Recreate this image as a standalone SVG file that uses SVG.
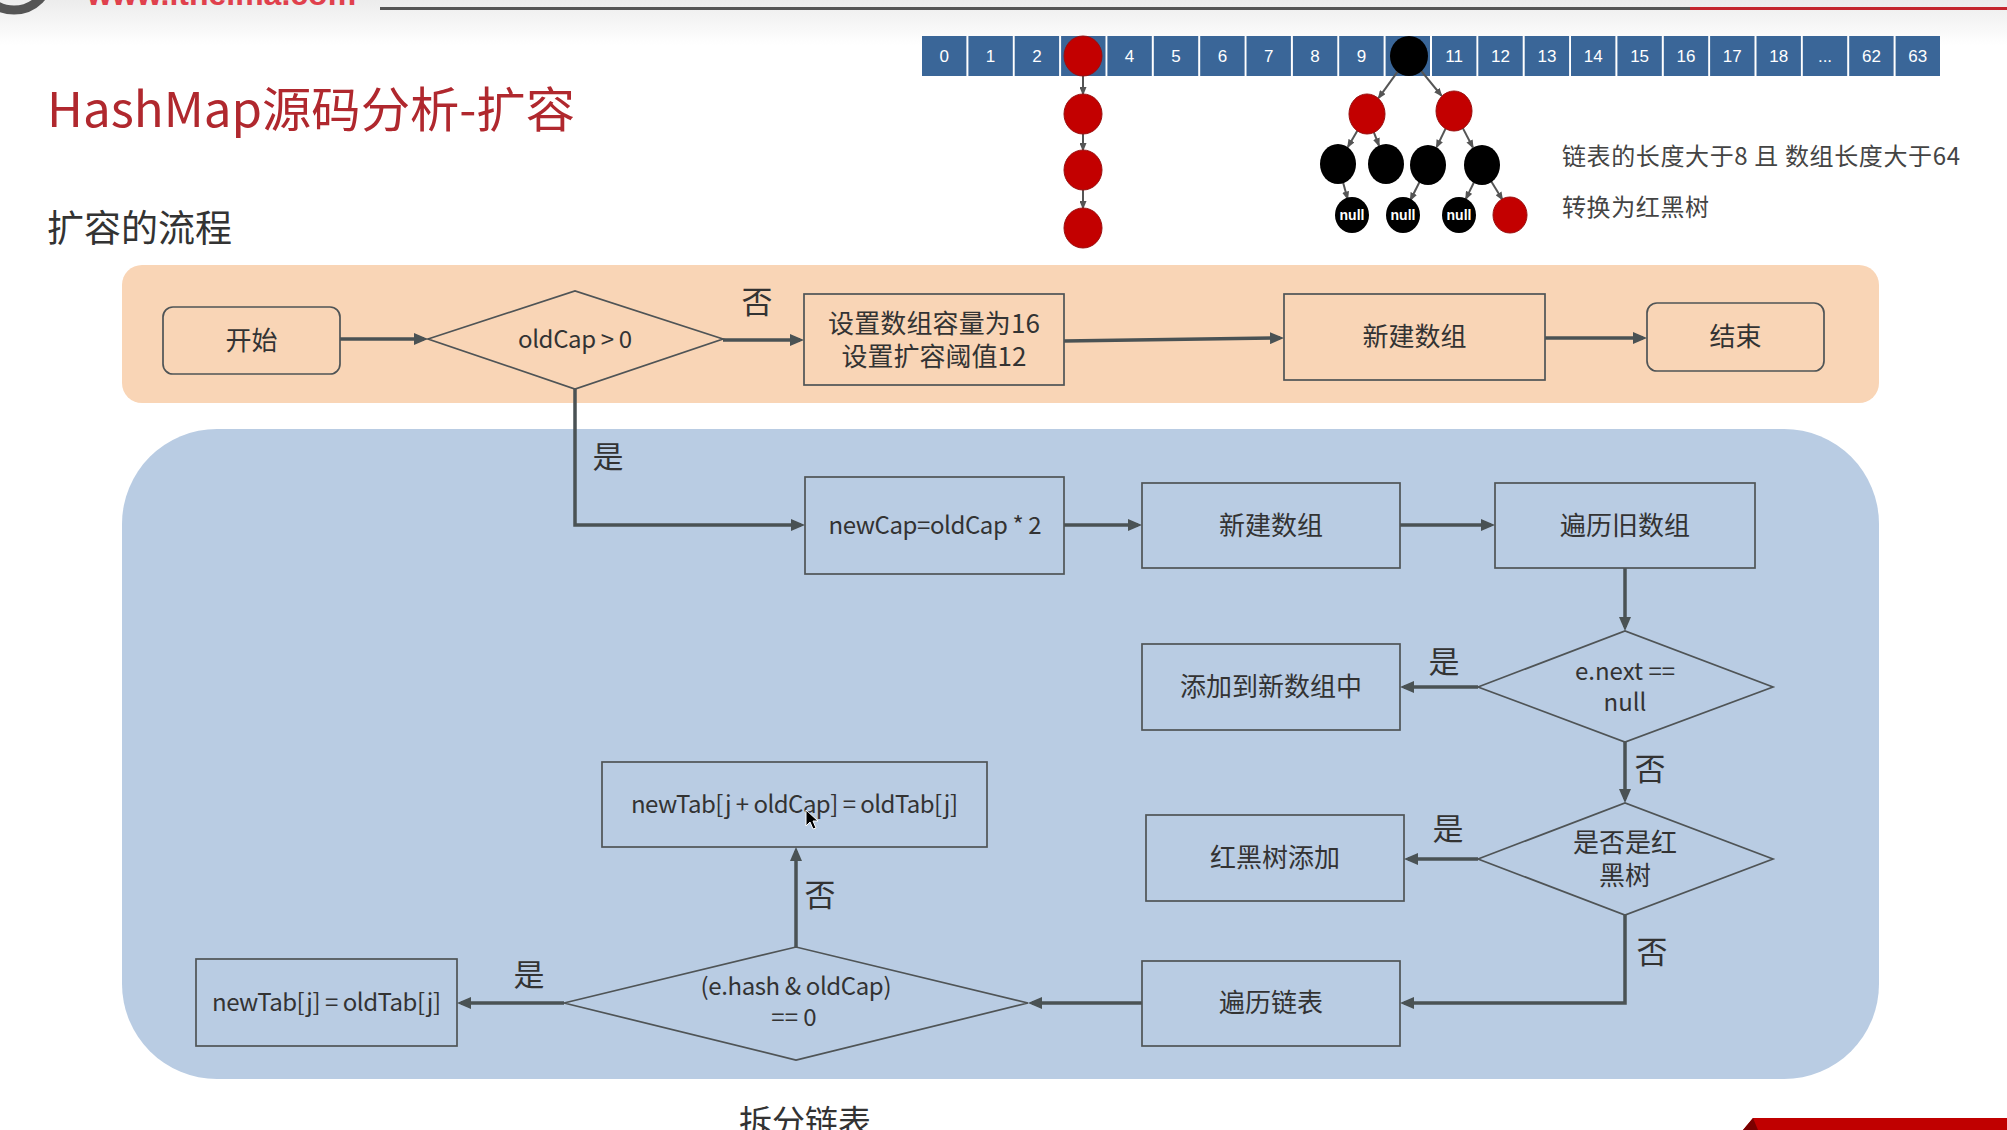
<svg xmlns="http://www.w3.org/2000/svg" width="2007" height="1130" viewBox="0 0 2007 1130">
<defs>
  <linearGradient id="topbg" x1="0" y1="0" x2="0" y2="1">
    <stop offset="0" stop-color="#ececec"/>
    <stop offset="1" stop-color="#ffffff"/>
  </linearGradient>
  <marker id="arr" viewBox="0 0 14 12" refX="10" refY="6" markerWidth="14" markerHeight="12" markerUnits="userSpaceOnUse" orient="auto">
    <path d="M0,0 L14,6 L0,12 Z" fill="#4a5254"/>
  </marker>
  <marker id="arrS" viewBox="0 0 10 8" refX="8" refY="4" markerWidth="9" markerHeight="7" markerUnits="userSpaceOnUse" orient="auto">
    <path d="M0,0 L10,4 L0,8 Z" fill="#555"/>
  </marker>
</defs>
<style>
  .box{fill:none;stroke:#4f5456;stroke-width:1.7}
  .t{font-family:"Noto Sans CJK SC","Microsoft YaHei",sans-serif;fill:#333;font-size:26px;text-anchor:middle}
  .lt{font-family:"Noto Sans CJK SC","Microsoft YaHei",sans-serif;fill:#333;font-size:24px;text-anchor:middle}
  .lbl{font-family:"Noto Sans CJK SC",sans-serif;fill:#333;font-size:31px;text-anchor:middle}
  .conn{fill:none;stroke:#4a5254;stroke-width:3.5}
  .cell{fill:#3a6698}
  .num{font-family:"Liberation Sans",Arial,sans-serif;fill:#fff;font-size:17px;text-anchor:middle}
  .red{fill:#c30000;stroke:#9a1010;stroke-width:1}
  .blk{fill:#000}
  .tl{stroke:#555;stroke-width:2;fill:none}
  .nul{font-family:"Liberation Sans",Arial,sans-serif;font-weight:bold;fill:#fff;font-size:14px;text-anchor:middle}
</style>

<!-- background -->
<rect x="0" y="0" width="2007" height="1130" fill="#ffffff"/>
<rect x="0" y="0" width="2007" height="45" fill="url(#topbg)"/>
<circle cx="14" cy="-26" r="36" fill="none" stroke="#555" stroke-width="9"/>
<text x="87" y="5" font-family="Liberation Sans,Arial,sans-serif" font-size="32" font-weight="bold" fill="#e0404c">www.itheima.com</text>
<rect x="380" y="7" width="1310" height="3" fill="#555"/>
<rect x="1690" y="7" width="317" height="3" fill="#c4262e"/>

<!-- titles -->
<text x="47" y="127" font-family="Noto Sans CJK SC,Microsoft YaHei,sans-serif" font-size="48" fill="#b0282e" textLength="528" lengthAdjust="spacingAndGlyphs">HashMap源码分析-扩容</text>
<text x="47" y="242" font-family="Noto Sans CJK SC,Microsoft YaHei,sans-serif" font-size="37" fill="#333">扩容的流程</text>

<!-- array illustration -->
<g id="array">
  <rect class="cell" x="922" y="36" width="44.4" height="40"/>
  <rect class="cell" x="968.4" y="36" width="44.4" height="40"/>
  <rect class="cell" x="1014.7" y="36" width="44.4" height="40"/>
  <rect class="cell" x="1061.1" y="36" width="44.4" height="40"/>
  <rect class="cell" x="1107.4" y="36" width="44.4" height="40"/>
  <rect class="cell" x="1153.8" y="36" width="44.4" height="40"/>
  <rect class="cell" x="1200.2" y="36" width="44.4" height="40"/>
  <rect class="cell" x="1246.5" y="36" width="44.4" height="40"/>
  <rect class="cell" x="1292.9" y="36" width="44.4" height="40"/>
  <rect class="cell" x="1339.2" y="36" width="44.4" height="40"/>
  <rect class="cell" x="1385.6" y="36" width="44.4" height="40"/>
  <rect class="cell" x="1432" y="36" width="44.4" height="40"/>
  <rect class="cell" x="1478.3" y="36" width="44.4" height="40"/>
  <rect class="cell" x="1524.7" y="36" width="44.4" height="40"/>
  <rect class="cell" x="1571" y="36" width="44.4" height="40"/>
  <rect class="cell" x="1617.4" y="36" width="44.4" height="40"/>
  <rect class="cell" x="1663.8" y="36" width="44.4" height="40"/>
  <rect class="cell" x="1710.1" y="36" width="44.4" height="40"/>
  <rect class="cell" x="1756.5" y="36" width="44.4" height="40"/>
  <rect class="cell" x="1802.8" y="36" width="44.4" height="40"/>
  <rect class="cell" x="1849.2" y="36" width="44.4" height="40"/>
  <rect class="cell" x="1895.6" y="36" width="44.4" height="40"/>
  <text class="num" x="944.2" y="62">0</text>
  <text class="num" x="990.6" y="62">1</text>
  <text class="num" x="1036.9" y="62">2</text>
  <text class="num" x="1129.6" y="62">4</text>
  <text class="num" x="1176" y="62">5</text>
  <text class="num" x="1222.4" y="62">6</text>
  <text class="num" x="1268.7" y="62">7</text>
  <text class="num" x="1315.1" y="62">8</text>
  <text class="num" x="1361.4" y="62">9</text>
  <text class="num" x="1454.2" y="62">11</text>
  <text class="num" x="1500.5" y="62">12</text>
  <text class="num" x="1546.9" y="62">13</text>
  <text class="num" x="1593.2" y="62">14</text>
  <text class="num" x="1639.6" y="62">15</text>
  <text class="num" x="1686" y="62">16</text>
  <text class="num" x="1732.3" y="62">17</text>
  <text class="num" x="1778.7" y="62">18</text>
  <text class="num" x="1825" y="62">...</text>
  <text class="num" x="1871.4" y="62">62</text>
  <text class="num" x="1917.8" y="62">63</text>
</g>

<g id="chain">
  <line class="tl" x1="1083" y1="76" x2="1083" y2="94" marker-end="url(#arrS)"/>
  <line class="tl" x1="1083" y1="134" x2="1083" y2="150" marker-end="url(#arrS)"/>
  <line class="tl" x1="1083" y1="190" x2="1083" y2="208" marker-end="url(#arrS)"/>
  <ellipse class="red" cx="1083" cy="56" rx="19" ry="20"/>
  <ellipse class="red" cx="1083" cy="114" rx="19" ry="20"/>
  <ellipse class="red" cx="1083" cy="170" rx="19" ry="20"/>
  <ellipse class="red" cx="1083" cy="228" rx="19" ry="20"/>
</g>

<g id="tree">
  <line class="tl" x1="1397.8" y1="71.4" x2="1378.7" y2="97.8" marker-end="url(#arrS)"/>
  <line class="tl" x1="1421" y1="70.7" x2="1441.3" y2="95.5" marker-end="url(#arrS)"/>
  <line class="tl" x1="1357.5" y1="130.4" x2="1348" y2="146.7" marker-end="url(#arrS)"/>
  <line class="tl" x1="1373.7" y1="131.8" x2="1378.9" y2="145.3" marker-end="url(#arrS)"/>
  <line class="tl" x1="1445.8" y1="128.1" x2="1436.7" y2="147" marker-end="url(#arrS)"/>
  <line class="tl" x1="1462.7" y1="127.9" x2="1472.8" y2="147.2" marker-end="url(#arrS)"/>
  <line class="tl" x1="1343" y1="182.3" x2="1347.5" y2="198.6" marker-end="url(#arrS)"/>
  <line class="tl" x1="1419.5" y1="182" x2="1410.6" y2="199.8" marker-end="url(#arrS)"/>
  <line class="tl" x1="1474" y1="182.3" x2="1466" y2="198.6" marker-end="url(#arrS)"/>
  <line class="tl" x1="1491.3" y1="181.6" x2="1502.2" y2="199.3" marker-end="url(#arrS)"/>
  <ellipse class="blk" cx="1409" cy="56" rx="19" ry="20"/>
  <ellipse class="red" cx="1367" cy="114" rx="18" ry="20"/>
  <ellipse class="red" cx="1454" cy="111" rx="18" ry="20"/>
  <ellipse class="blk" cx="1338" cy="164" rx="18" ry="20"/>
  <ellipse class="blk" cx="1386" cy="164" rx="18" ry="20"/>
  <ellipse class="blk" cx="1428" cy="165" rx="18" ry="20"/>
  <ellipse class="blk" cx="1482" cy="165" rx="18" ry="20"/>
  <ellipse class="blk" cx="1352" cy="215" rx="17" ry="18"/>
  <ellipse class="blk" cx="1403" cy="215" rx="17" ry="18"/>
  <ellipse class="blk" cx="1459" cy="215" rx="17" ry="18"/>
  <ellipse class="red" cx="1510" cy="215" rx="17" ry="18"/>
  <text class="nul" x="1352" y="220">null</text>
  <text class="nul" x="1403" y="220">null</text>
  <text class="nul" x="1459" y="220">null</text>
</g>

<text x="1562" y="165" font-family="Noto Sans CJK SC,Microsoft YaHei,sans-serif" font-size="24" fill="#444" textLength="398">链表的长度大于8 且 数组长度大于64</text>
<text x="1562" y="216" font-family="Noto Sans CJK SC,Microsoft YaHei,sans-serif" font-size="24" fill="#444" textLength="147">转换为红黑树</text>

<!-- bands -->
<rect id="band-init" x="122" y="265" width="1757" height="138" rx="20" fill="#f9d5b6"/>
<rect id="band-resize" x="122" y="429" width="1757" height="650" rx="95" fill="#b9cce3"/>

<!-- connectors -->
<g id="connectors">
  <path class="conn" d="M340,339 H424" marker-end="url(#arr)"/>
  <path class="conn" d="M723,340 H800" marker-end="url(#arr)"/>
  <path class="conn" d="M1064,341 L1280,338" marker-end="url(#arr)"/>
  <path class="conn" d="M1545,338 H1643" marker-end="url(#arr)"/>
  <path class="conn" d="M575,389 V525 H801" marker-end="url(#arr)"/>
  <path class="conn" d="M1064,525 H1138" marker-end="url(#arr)"/>
  <path class="conn" d="M1400,525 H1491" marker-end="url(#arr)"/>
  <path class="conn" d="M1625,568 V627" marker-end="url(#arr)"/>
  <path class="conn" d="M1478,687 H1404" marker-end="url(#arr)"/>
  <path class="conn" d="M1625,742 V799" marker-end="url(#arr)"/>
  <path class="conn" d="M1478,859 H1408" marker-end="url(#arr)"/>
  <path class="conn" d="M1625,915 V1003 H1404" marker-end="url(#arr)"/>
  <path class="conn" d="M1142,1003 H1032" marker-end="url(#arr)"/>
  <path class="conn" d="M564,1003 H461" marker-end="url(#arr)"/>
  <path class="conn" d="M796,947 V851" marker-end="url(#arr)"/>
  <text class="lbl" x="757" y="313">否</text>
  <text class="lbl" x="608" y="468">是</text>
  <text class="lbl" x="1444" y="673">是</text>
  <text class="lbl" x="1650" y="780">否</text>
  <text class="lbl" x="1448" y="840">是</text>
  <text class="lbl" x="1652" y="963">否</text>
  <text class="lbl" x="529" y="986">是</text>
  <text class="lbl" x="820" y="906">否</text>
</g>

<!-- nodes -->
<g id="start">
  <rect class="box" x="163" y="307" width="177" height="67" rx="10"/>
  <text class="t" x="251.5" y="349.5">开始</text>
</g>
<g id="check-oldcap">
  <polygon class="box" points="428,339 575,291 723,339 575,389"/>
  <text class="lt" x="575" y="348" textLength="114">oldCap &gt; 0</text>
</g>
<g id="init-cap">
  <rect class="box" x="804" y="294" width="260" height="91"/>
  <text class="t" x="934" y="333" textLength="212">设置数组容量为16</text>
  <text class="t" x="934" y="366" textLength="185">设置扩容阈值12</text>
</g>
<g id="new-array-1">
  <rect class="box" x="1284" y="294" width="261" height="86"/>
  <text class="t" x="1414.5" y="346">新建数组</text>
</g>
<g id="end">
  <rect class="box" x="1647" y="303" width="177" height="68" rx="10"/>
  <text class="t" x="1735.5" y="346">结束</text>
</g>
<g id="double-cap">
  <rect class="box" x="805" y="477" width="259" height="97"/>
  <text class="lt" x="935" y="534" textLength="213">newCap=oldCap * 2</text>
</g>
<g id="new-array-2">
  <rect class="box" x="1142" y="483" width="258" height="85"/>
  <text class="t" x="1271" y="534.5">新建数组</text>
</g>
<g id="iterate-old">
  <rect class="box" x="1495" y="483" width="260" height="85"/>
  <text class="t" x="1625" y="534.5">遍历旧数组</text>
</g>
<g id="check-next">
  <polygon class="box" points="1478,687 1625,631 1773,687 1625,742"/>
  <text class="lt" x="1625" y="680">e.next ==</text>
  <text class="lt" x="1625" y="711">null</text>
</g>
<g id="add-new">
  <rect class="box" x="1142" y="644" width="258" height="86"/>
  <text class="t" x="1271" y="696">添加到新数组中</text>
</g>
<g id="check-tree">
  <polygon class="box" points="1478,859 1625,803 1773,859 1625,915"/>
  <text class="t" x="1625" y="852">是否是红</text>
  <text class="t" x="1625" y="885">黑树</text>
</g>
<g id="tree-add">
  <rect class="box" x="1146" y="815" width="258" height="86"/>
  <text class="t" x="1275" y="867">红黑树添加</text>
</g>
<g id="iterate-list">
  <rect class="box" x="1142" y="961" width="258" height="85"/>
  <text class="t" x="1271" y="1012">遍历链表</text>
</g>
<g id="check-hash">
  <polygon class="box" points="564,1003 796,947 1028,1003 796,1060"/>
  <text class="lt" x="796" y="995" textLength="191">(e.hash &amp; oldCap)</text>
  <text class="lt" x="794" y="1026">== 0</text>
</g>
<g id="low-slot">
  <rect class="box" x="196" y="959" width="261" height="87"/>
  <text class="lt" x="326.5" y="1011" textLength="229">newTab[j] = oldTab[j]</text>
</g>
<g id="high-slot">
  <rect class="box" x="602" y="762" width="385" height="85"/>
  <text class="lt" x="794.5" y="813" textLength="327">newTab[j + oldCap] = oldTab[j]</text>
</g>

<!-- mouse cursor -->
<path d="M806,810 L806,826 L810,822 L813,829 L816,828 L813,821 L818,821 Z" fill="#000" stroke="#fff" stroke-width="1"/>

<text x="805" y="1134" font-family="Noto Sans CJK SC,Microsoft YaHei,sans-serif" font-size="33" fill="#333" text-anchor="middle">拆分链表</text>

<!-- footer corner -->
<polygon points="1753,1118 2007,1118 2007,1130 1743,1130" fill="#c00000"/>
<polygon points="1743,1130 1753,1118 1758,1130" fill="#7a0000"/>
</svg>
